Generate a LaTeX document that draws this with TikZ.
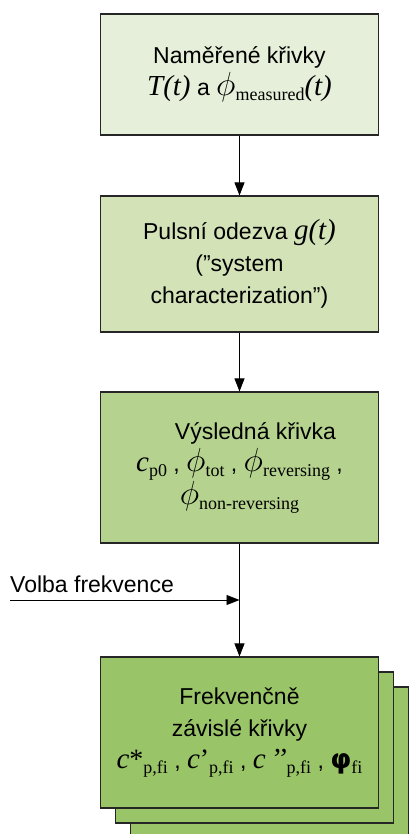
\RequirePackage{fix-cm}
\documentclass[tikz,border=0pt]{standalone}
\usepackage{fontspec}
\setmainfont{Liberation Sans}
\newfontfamily\tnr{Liberation Serif}
\newfontfamily\djv{DejaVu Sans}
\usetikzlibrary{arrows.meta,positioning}

\definecolor{krokA}{HTML}{E6EFD9}
\definecolor{krokB}{HTML}{D3E2B7}
\definecolor{krokC}{HTML}{B5D38E}
\definecolor{krokD}{HTML}{99C467}

% italic quantities and lowered indices
\newcommand{\vel}[1]{{\tnr\itshape\fontsize{29}{29}\selectfont #1}}
\newcommand{\ind}[1]{\raisebox{-5pt}{\tnr\fontsize{18}{18}\selectfont #1}}
\newcommand{\fii}{\scalebox{1.45}{$\phi$}}

\begin{document}
\begin{tikzpicture}[x=1pt,y=-1pt,
    krabice/.style={draw=black!85, line width=1.1pt, minimum width=278pt, inner sep=0pt, align=center, font=\fontsize{23}{32}\selectfont},
    sipka/.style={-{Triangle[length=13pt,width=10pt]}, line width=0.9pt}]
    \useasboundingbox (0,0) rectangle (409,834);
    \clip (0,0) rectangle (409,834);

    \node[krabice, fill=krokA, minimum height=121pt] (namerene) at (239.5,74.5) {Naměřené křivky\\ \vel{T(t)} a \fii\ind{measured}\vel{(t)}};
    \node[krabice, fill=krokB, minimum height=136pt] (odezva) at (239.5,264) {Pulsní odezva \vel{g(t)}\\ (\symbol{34}system\\ characterization\symbol{34})};
    \node[krabice, fill=krokC, minimum height=151pt] (vysledna) at (239.5,467.5) {\hspace*{32pt}Výsledná křivka\\ \vel{c}\ind{p0} , \fii\ind{tot} , \fii\ind{reversing} ,\\ \fii\ind{non-reversing}};

    % stack of frequency curves
    \node[krabice, fill=krokD, minimum height=151pt] (frek3) at (269.5,762.5) {};
    \node[krabice, fill=krokD, minimum height=151pt] (frek2) at (254.5,747.5) {};
    \node[krabice, fill=krokD, minimum height=151pt] (frek) at (239.5,732.5) {Frekvenčně\\ závislé křivky\hspace*{54pt}\\ \vel{c}{\tnr\fontsize{28}{28}\selectfont *}\ind{p,fi} , \vel{c}{\tnr\fontsize{28}{28}\selectfont ’}\ind{p,fi}\ , \vel{c\,’’}\ind{p,fi} , {\djv\bfseries\fontsize{27}{27}\selectfont φ}\ind{fi}};

    \node[anchor=base west, inner sep=0pt, font=\fontsize{23}{23}\selectfont] (volba) at (10,592) {Volba frekvence};
    \coordinate (vstup) at (10,600);

    \draw[sipka] (namerene) -- (odezva);
    \draw[sipka] (odezva) -- (vysledna);
    \draw[sipka] (vysledna) -- (frek);
    \draw[sipka] (vstup) -- (vstup -| vysledna.south);
\end{tikzpicture}
\end{document}
